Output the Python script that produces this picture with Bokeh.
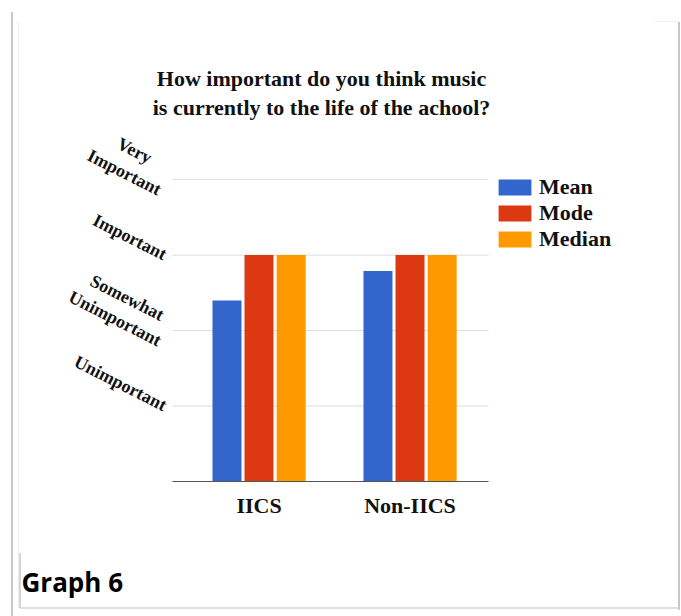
from bokeh.plotting import figure
from bokeh.models import (ColumnDataSource, Range1d, FixedTicker, Legend, LegendItem, Label)
from bokeh.transform import dodge
from bokeh.embed import file_html
from bokeh.resources import INLINE

# Survey answers coded 1..4 (Unimportant .. Very Important)
schools = ["IICS", "Non-IICS"]
mean_vals = [2.40, 2.79]
mode_vals = [3, 3]
median_vals = [3, 3]
scale_levels = [1, 2, 3, 4]
scale_labels = ["Unimportant", "Somewhat\nUnimportant", "Important", "Very\nImportant"]
series_names = ["Mean", "Mode", "Median"]
colors = ["#3366cc", "#dc3912", "#ff9900"]

SERIF = "Liberation Serif"
NBSP = "\u00a0"
W, H = 681, 616

# The frame fills the whole canvas; the axes sit at fixed data positions so that
# title, legend and caption can be placed freely around the bar area.
px_per_x = 151.0            # pixels per school slot
px_per_y = 75.46            # pixels per answer level
x0_px, y0_px = 258.5, 481   # canvas position of (first school, level 0)
area_left, area_right = -0.573, 1.52   # bar-area extent in data units

p = figure(width=W, height=H, output_backend="svg", toolbar_location=None,
           x_range=Range1d(-x0_px / px_per_x, (W - x0_px) / px_per_x),
           y_range=Range1d(-(H - y0_px) / px_per_y, y0_px / px_per_y),
           min_border=0, min_border_left=0, min_border_right=0,
           min_border_top=0, min_border_bottom=0)
p.outline_line_color = None
p.background_fill_alpha = 0
p.border_fill_alpha = 0
p.grid.visible = False

# thin grey page rules around the figure
rules = [
    ("#c8c8c8", 11, 12, 2, 604),   # outer left
    ("#eeeeee", 18, 22, 1, 586),   # inner left, faint
    ("#d6d6d6", 19, 553, 2, 55),   # inner left, lower part
    ("#c8c8c8", 678, 22, 2, 588),  # right
    ("#e0e0e0", 20, 607, 660, 2),  # bottom
    ("#eeeeee", 655, 21, 24, 1),   # top-right stub
]
layers = [f"linear-gradient({c},{c}) {x}px {y}px / {w}px {h}px no-repeat" for c, x, y, w, h in rules]
p.styles = {"background": ", ".join(layers + ["#ffffff"])}

# horizontal guide lines across the bar area only
p.segment(x0=[area_left] * len(scale_levels), x1=[area_right] * len(scale_levels),
          y0=scale_levels, y1=scale_levels, line_color="#dddddd", line_width=1)

src = ColumnDataSource(dict(
    x=list(range(len(schools))),
    mean=mean_vals, mode=mode_vals, median=median_vals,
))
bar_w = 0.192
offsets = [-0.212, 0.0, 0.213]
fields = ["mean", "mode", "median"]
renderers = []
for f, off, c in zip(fields, offsets, colors):
    r = p.vbar(x=dodge("x", off), top=f, width=bar_w, bottom=0, source=src,
               fill_color=c, line_color=None)
    renderers.append(r)

# x axis: baseline at level 0 with the school names under it
xa = p.xaxis[0]
xa.fixed_location = 0
xa.bounds = (area_left, area_right)
xa.ticker = FixedTicker(ticks=list(range(len(schools))))
xa.major_label_overrides = {i: s for i, s in enumerate(schools)}
xa.major_tick_line_color = None
xa.minor_tick_line_color = None
xa.axis_line_color = "#555555"
xa.axis_line_width = 1
xa.major_label_text_font = SERIF
xa.major_label_text_font_style = "bold"
xa.major_label_text_font_size = "22px"
xa.major_label_text_color = "#111111"
xa.major_label_standoff = 5


def centre_lines(label, pad):
    # the axis right-aligns multi-line labels; pad the short first line so the
    # two lines sit centred on each other
    lines = label.split("\n")
    if len(lines) == 2:
        return lines[0] + NBSP * pad + "\n" + lines[1]
    return label


pads = {"Very\nImportant": 5, "Somewhat\nUnimportant": 2}

# y axis: rotated answer-scale labels at the left edge of the bar area
ya = p.yaxis[0]
ya.fixed_location = area_left
ya.ticker = FixedTicker(ticks=scale_levels)
ya.major_label_overrides = {v: centre_lines(s, pads.get(s, 0))
                            for v, s in zip(scale_levels, scale_labels)}
ya.major_label_orientation = -0.47
ya.axis_line_color = None
ya.major_tick_line_color = None
ya.minor_tick_line_color = None
ya.major_label_text_font = SERIF
ya.major_label_text_font_style = "bold"
ya.major_label_text_font_size = "18px"
ya.major_label_text_color = "#111111"
ya.major_label_standoff = 1

legend = Legend(items=[LegendItem(label=n, renderers=[r]) for n, r in zip(series_names, renderers)],
                location=(494, 364), orientation="vertical",
                glyph_width=41, glyph_height=20, label_height=20, spacing=0,
                label_standoff=4, padding=0, margin=0,
                label_text_font=SERIF, label_text_font_style="bold",
                label_text_font_size="22px", label_text_color="#111111",
                border_line_color=None, background_fill_alpha=0)
p.add_layout(legend, "center")

# chart title
p.add_layout(Label(x=321, y=H - 92, x_units="screen", y_units="screen",
                   text="How important do you think music\nis currently to the life of the achool?",
                   text_align="center", text_baseline="middle",
                   text_font=SERIF, text_font_style="bold", text_font_size="22px",
                   text_color="#111111", text_line_height=1.16))

# caption under the chart
p.add_layout(Label(x=21, y=H - 581, x_units="screen", y_units="screen",
                   text="Graph 6", text_align="left", text_baseline="alphabetic",
                   text_font="Open Sans", text_font_style="bold", text_font_size="26px",
                   text_color="#000000"))

open("out.html", "w").write(file_html(p, INLINE))
